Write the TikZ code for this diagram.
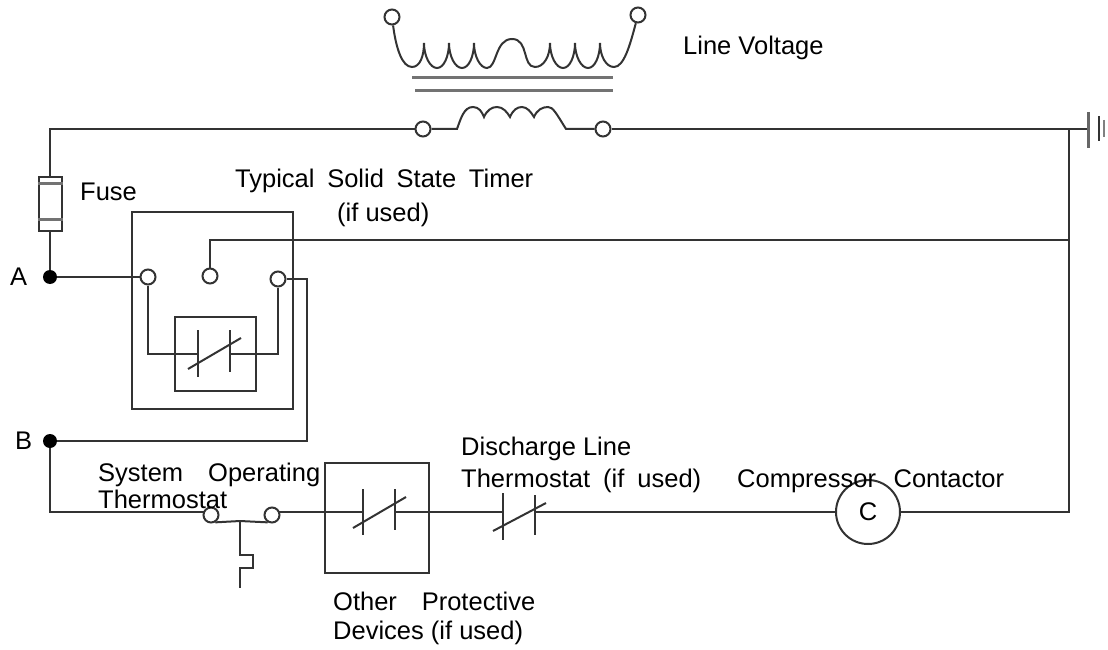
\documentclass[tikz,border=0pt]{standalone}
\usepackage{fontspec}
\setmainfont{Liberation Sans}
\tikzset{
  wire/.style={line width=2pt,black!80},
  core/.style={line width=3pt,black!55},
  term/.style={circle,draw=black!80,line width=2pt,fill=white,inner sep=0pt,minimum size=15pt},
  dotnode/.style={circle,fill=black,inner sep=0pt,minimum size=14pt},
  boxnode/.style={rectangle,draw=black!80,line width=2pt,inner sep=0pt},
  lab/.style={anchor=west,inner sep=0pt,font=\fontsize{25.5}{28}\selectfont},
}
\begin{document}
\begin{tikzpicture}[x=1pt,y=-1pt]
\useasboundingbox (0,0) rectangle (1108,650);
% boxes
\node[boxnode,minimum width=161pt,minimum height=197pt] (timerbox) at (212.5,310.5){};
\node[boxnode,minimum width=81pt,minimum height=74pt] (relaybox) at (215,353.5){};
\node[boxnode,minimum width=104pt,minimum height=110pt] (otherbox) at (377,518){};
\node[boxnode,minimum width=23pt,minimum height=54pt] (fuse) at (50,203.5){};
\draw[core] (fuse.west|-0,183)--(fuse.east|-0,183);
\draw[core] (fuse.west|-0,219)--(fuse.east|-0,219);
% terminals
\node[term] (lineL) at (392,17){};
\node[term] (lineR) at (638,15){};
\node[term] (loadL) at (423,129){};
\node[term] (loadR) at (603,129){};
\node[term] (timerA) at (148,277){};
\node[term] (timerM) at (210,276){};
\node[term] (timerB) at (278,279){};
\node[term] (sysL) at (211,515){};
\node[term] (sysR) at (272,515){};
\node[dotnode] (ptA) at (50,277){};
\node[dotnode] (ptB) at (50,441){};
\node[circle,draw=black!80,line width=2pt,minimum size=64pt,inner sep=0pt,font=\fontsize{25.5}{28}\selectfont] (comp) at (868,512){C};
% corners
\coordinate (gnd) at (1088,129);
\coordinate (jtop) at (1069,129);
\coordinate (jmid) at (1069,240);
\coordinate (jbot) at (1069,512);
\coordinate (cwL) at (363,512);
\coordinate (cwR) at (395,512);
\coordinate (dwL) at (503,512);
\coordinate (dwR) at (535,512);
\coordinate (rwL) at (198,354);
\coordinate (rwR) at (230,354);
\coordinate (stem) at (240,521);
% transformer
\draw[wire] (lineL) .. controls (396,48) and (402,67) .. (412,67)
  .. controls (420,67) and (424,56) .. (424,43)
  .. controls (424,56) and (430,68) .. (437,68)
  .. controls (444,68) and (449,56) .. (449,43)
  .. controls (449,56) and (455,68) .. (462,68)
  .. controls (469,68) and (474,56) .. (474,43)
  .. controls (474,56) and (480,68) .. (487,68)
  .. controls (497,68) and (495,39) .. (512,39)
  .. controls (529,39) and (522,67) .. (535,67)
  .. controls (544,67) and (550,56) .. (550,43)
  .. controls (550,56) and (556,68) .. (563,68)
  .. controls (570,68) and (575,56) .. (575,43)
  .. controls (575,56) and (581,68) .. (588,68)
  .. controls (595,68) and (600,56) .. (600,43)
  .. controls (600,56) and (606,67) .. (614,67)
  .. controls (624,67) and (630,45) .. (lineR);
\draw[core] (412,78)--(613,78);
\draw[core] (415,91)--(613,91);
\draw[wire] (loadL)--(457,129) .. controls (461,118) and (464,107) .. (473,107)
  .. controls (479,107) and (482,112) .. (484,117)
  .. controls (487,110) and (492,107) .. (497,107)
  .. controls (503,107) and (507,112) .. (510,117)
  .. controls (513,110) and (517,107) .. (522,107)
  .. controls (527,107) and (531,112) .. (534,117)
  .. controls (537,110) and (542,107) .. (548,107)
  .. controls (553,107) and (556,113) .. (566,129)--(loadR);
% main wires
\draw[wire] (loadL)-|(fuse.north);
\draw[wire] (fuse.south)--(ptA);
\draw[wire] (loadR)--(gnd);
\draw[wire] (ptA)--(timerA);
\draw[wire] (timerM)|-(jmid);
\draw[wire] (timerB.east)-|(307,441)--(ptB);
\draw[wire] (ptB)|-(sysL.north west|-cwL);
\draw[wire] (sysR.north east|-cwL)--(cwL);
\draw[wire] (cwR)--(dwL);
\draw[wire] (dwR)--(comp);
\draw[wire] (comp)--(jbot)--(jtop);
% ground
\draw[line width=3pt,black!60] (1088,112)--(1088,148);
\draw[line width=2.5pt,black!80] (1099,116)--(1099,141);
\draw[line width=2pt,black!50] (1104,120)--(1104,137);
% timer contact
\draw[wire] (timerA)|-(rwL);
\draw[wire] (timerB)|-(rwR);
\draw[wire] (198,330)--(198,377);
\draw[wire] (230,330)--(230,372);
\draw[wire] (188,369)--(241,338);
% other devices contact
\draw[wire] (363,489)--(363,535);
\draw[wire] (395,489)--(395,530);
\draw[wire] (353,528)--(406,497);
% discharge contact
\draw[wire] (503,493)--(503,540);
\draw[wire] (535,495)--(535,535);
\draw[wire] (493,531)--(546,503);
% system thermostat
\draw[wire] (sysL.-60)--(stem)--(sysR.-120);
\draw[wire] (stem)--(240,555)--(253,555)--(253,568)--(240,568)--(240,588);
% labels
\node[lab] (tline) at (683,48){Line Voltage};
\node[lab] (tfuse) at (80,192){Fuse};
\node[lab] (ttimer) at (235,181){\makebox[298pt][s]{Typical Solid State Timer}};
\node[lab] (tused) at (337,215){(if used)};
\node[lab] (tA) at (10,277){A};
\node[lab] (tB) at (15,441){B};
\node[lab] (tsys) at (98,475){\makebox[222pt][s]{System Operating}};
\node[lab] (tsysb) at (98,499){Thermostat};
\node[lab] (tdis) at (461,449){Discharge Line};
\node[lab] (tdisb) at (461,481){\makebox[240pt][s]{Thermostat (if used)}};
\node[lab] (tcomp) at (737,481){\makebox[267pt][s]{Compressor Contactor}};
\node[lab] (toth) at (333,601){\makebox[202pt][s]{Other Protective}};
\node[lab] (tothb) at (333,633){Devices (if used)};
\end{tikzpicture}
\end{document}
